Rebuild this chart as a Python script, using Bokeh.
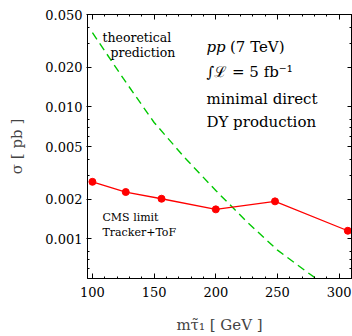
from bokeh.plotting import figure
from bokeh.models import Label, LinearAxis, LogAxis, FixedTicker, PrintfTickFormatter
from bokeh.embed import file_html
from bokeh.resources import INLINE

# CMS limit (Tracker+ToF)
cms_mass = [100, 127, 156, 200, 248, 307]
cms_sigma = [0.0027, 0.00226, 0.00201, 0.00167, 0.00192, 0.00115]

# theoretical prediction (minimal direct DY production)
th_mass = [100, 125, 150, 175, 200, 225, 250, 275, 300]
th_sigma = [0.0364, 0.0164, 0.0076, 0.0041, 0.00232, 0.00135, 0.00082, 0.00055, 0.00038]

x_major = [100, 150, 200, 250, 300]
x_minor = list(range(100, 311, 10))
y_major = [0.001, 0.002, 0.005, 0.01, 0.02, 0.05]
y_minor = [0.0006, 0.0007, 0.0008, 0.003, 0.004, 0.006, 0.007, 0.008, 0.03, 0.04]

SERIF = "DejaVu Serif"

p = figure(width=352, height=336, x_range=(96, 310), y_range=(0.0005, 0.05),
           y_axis_type="log", output_backend="svg", toolbar_location=None,
           min_border_left=87, min_border_top=14, min_border_right=1, min_border_bottom=57)
p.grid.visible = False
p.outline_line_color = "black"
p.background_fill_color = "white"

xt = FixedTicker(ticks=x_major, minor_ticks=x_minor)
yt = FixedTicker(ticks=y_major, minor_ticks=y_minor)

p.xaxis.ticker = xt
p.yaxis.ticker = yt
p.yaxis.formatter = PrintfTickFormatter(format="%.3f")

for ax in p.xaxis:
    ax.major_tick_in = 5
    ax.major_tick_out = 0
    ax.minor_tick_in = 2
    ax.minor_tick_out = 0
    ax.major_label_standoff = 8
    ax.major_label_text_font = SERIF
    ax.major_label_text_font_size = "13px"
    ax.major_label_text_color = "black"
    ax.axis_label = "mτ̃₁ [ GeV ]"
    ax.axis_label_text_font = SERIF
    ax.axis_label_text_font_size = "15px"
    ax.axis_label_text_font_style = "normal"
    ax.axis_label_standoff = 16
for ax in p.yaxis:
    ax.major_tick_in = 4
    ax.major_tick_out = 1
    ax.minor_tick_in = 2
    ax.minor_tick_out = 0
    ax.major_label_standoff = 4
    ax.major_label_text_font = SERIF
    ax.major_label_text_font_size = "13px"
    ax.major_label_text_color = "black"
    ax.axis_label = "σ [ pb ]"
    ax.axis_label_text_font = SERIF
    ax.axis_label_text_font_size = "15px"
    ax.axis_label_text_font_style = "normal"
    ax.axis_label_standoff = 16

top = LinearAxis(ticker=xt, major_tick_in=5, major_tick_out=0, minor_tick_in=2, minor_tick_out=0,
                 major_label_text_font_size="1px", major_label_text_color=None,
                 major_label_standoff=0)
right = LogAxis(ticker=yt, major_tick_in=4, major_tick_out=0, minor_tick_in=2, minor_tick_out=0,
                major_label_text_font_size="1px", major_label_text_color=None,
                major_label_standoff=0)
p.add_layout(top, "above")
p.add_layout(right, "right")

p.line(th_mass, th_sigma, line_color="#00c800", line_width=1.4, line_dash="8 5")
p.line(cms_mass, cms_sigma, line_color="#ff0000", line_width=1.3)
p.scatter(cms_mass, cms_sigma, size=7, fill_color="#ff0000", line_color="#ff0000")

def lab(x, y, t, size="12px", style="normal"):
    p.add_layout(Label(x=x, y=y, text=t, text_font=SERIF, text_font_size=size,
                       text_font_style=style, text_align="left", text_baseline="alphabetic",
                       text_color="black"))

lab(108.1, 0.0335, "theoretical", size="12.5px")
lab(114.6, 0.0258, "prediction", size="12.5px")

lab(192.4, 0.0282, "pp", size="15px", style="italic")
lab(211.5, 0.0282, "(7 TeV)", size="15px")
lab(192.4, 0.01825, "∫ℒ = 5 fb⁻¹", size="15px")
lab(192.4, 0.01141, "minimal direct", size="15px")
lab(192.4, 0.00765, "DY production", size="15px")

lab(108.1, 0.001443, "CMS limit", size="11px")
lab(108.1, 0.001112, "Tracker+ToF", size="11px")

open("out.html", "w").write(file_html(p, INLINE))
